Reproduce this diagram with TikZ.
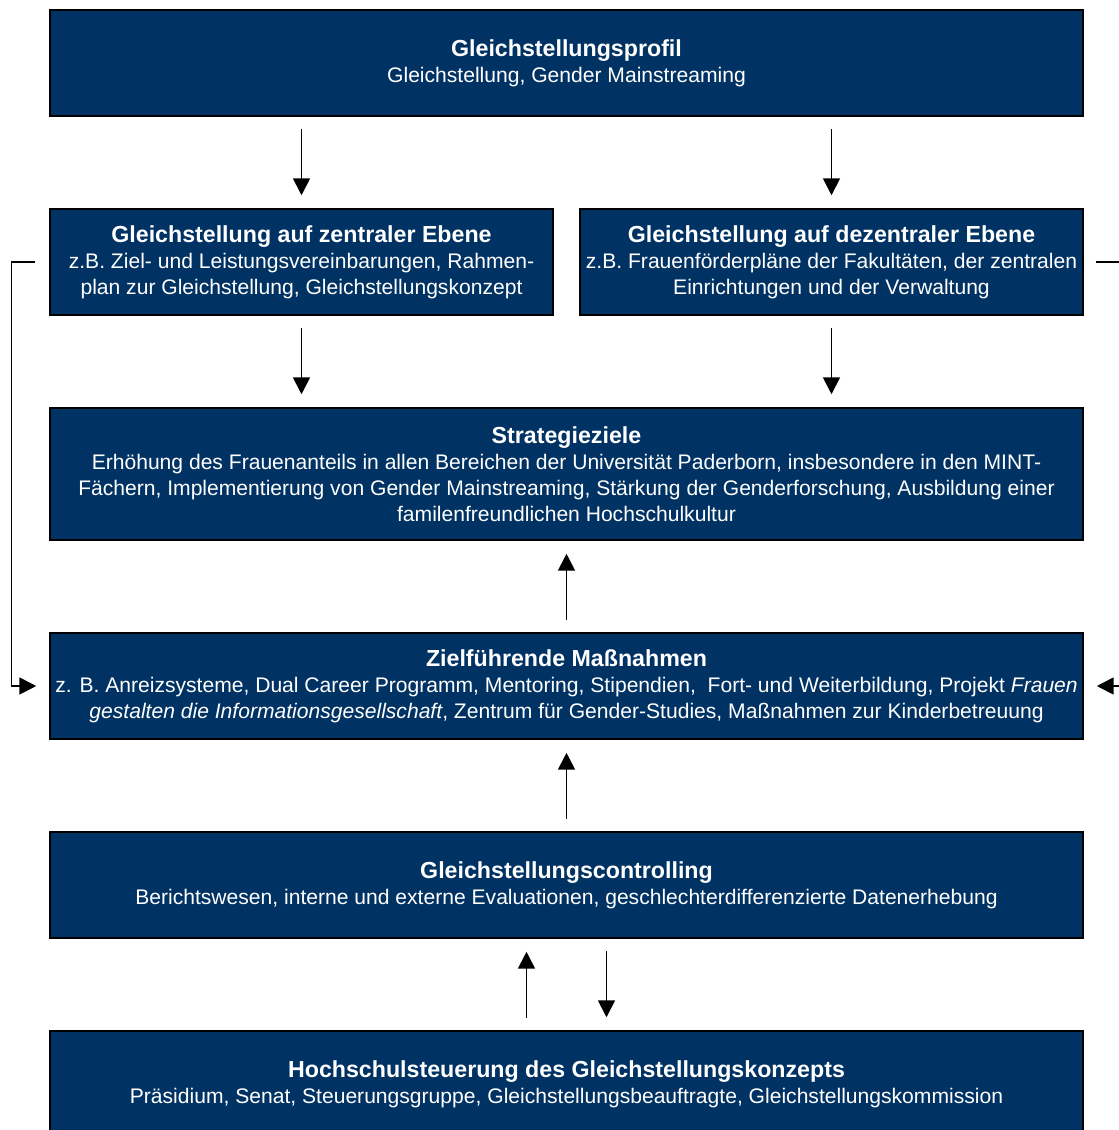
\documentclass[tikz,border=0pt]{standalone}
\usepackage{fontspec}
\setmainfont{Liberation Sans}
\usetikzlibrary{arrows.meta}

\definecolor{upbblau}{RGB}{0,50,99}

\tikzset{
box/.style={
draw=black,
line width=0.8pt,
fill=upbblau,
text=white,
align=center,
inner sep=0pt,
font=\fontsize{15}{18.5}\selectfont
},
arr/.style={
-{Triangle[length=12pt,width=12pt]},
line width=1.3pt,
shorten <=0.32cm,
shorten >=0.33cm
}
}

\newcommand{\kopf}[1]{{\fontsize{16.5}{18.5}\selectfont\bfseries #1}}

\begin{document}
\begin{tikzpicture}

\useasboundingbox (0,0) rectangle (27.975,-28.25);

%%%%%%%%%%%%%%%%%%%%%%%%%%%%%%%%%%%%%%%%%%%%%%%%%%%%%%
% PROFIL
%%%%%%%%%%%%%%%%%%%%%%%%%%%%%%%%%%%%%%%%%%%%%%%%%%%%%%

\node[
box,
minimum width=25.825cm,
minimum height=2.65cm
](profil)
at (14.1625,-1.575)
{\kopf{Gleichstellungsprofil}\\
Gleichstellung, Gender Mainstreaming};

%%%%%%%%%%%%%%%%%%%%%%%%%%%%%%%%%%%%%%%%%%%%%%%%%%%%%%
% ZENTRAL / DEZENTRAL
%%%%%%%%%%%%%%%%%%%%%%%%%%%%%%%%%%%%%%%%%%%%%%%%%%%%%%

\node[
box,
minimum width=12.575cm,
minimum height=2.65cm
](zentral)
at (7.5375,-6.55)
{\kopf{Gleichstellung auf zentraler Ebene}\\
z.B. Ziel- und Leistungsvereinbarungen, Rahmen-\\
plan zur Gleichstellung, Gleichstellungskonzept};

\node[
box,
minimum width=12.575cm,
minimum height=2.65cm
](dezentral)
at (20.7875,-6.55)
{\kopf{Gleichstellung auf dezentraler Ebene}\\
z.B. Frauenförderpläne der Fakultäten, der zentralen\\
Einrichtungen und der Verwaltung};

%%%%%%%%%%%%%%%%%%%%%%%%%%%%%%%%%%%%%%%%%%%%%%%%%%%%%%
% STRATEGIEZIELE
%%%%%%%%%%%%%%%%%%%%%%%%%%%%%%%%%%%%%%%%%%%%%%%%%%%%%%

\node[
box,
minimum width=25.825cm,
minimum height=3.3cm
](ziele)
at (14.1625,-11.85)
{\kopf{Strategieziele}\\
Erhöhung des Frauenanteils in allen Bereichen der Universität Paderborn, insbesondere in den MINT-\\
Fächern, Implementierung von Gender Mainstreaming, Stärkung der Genderforschung, Ausbildung einer\\
familenfreundlichen Hochschulkultur};

%%%%%%%%%%%%%%%%%%%%%%%%%%%%%%%%%%%%%%%%%%%%%%%%%%%%%%
% MASSNAHMEN
%%%%%%%%%%%%%%%%%%%%%%%%%%%%%%%%%%%%%%%%%%%%%%%%%%%%%%

\node[
box,
minimum width=25.825cm,
minimum height=2.65cm
](massnahmen)
at (14.1625,-17.15)
{\kopf{Zielführende Maßnahmen}\\
z. B. Anreizsysteme, Dual Career Programm, Mentoring, Stipendien, \ Fort- und Weiterbildung, Projekt \textit{Frauen}\\
\textit{gestalten die Informationsgesellschaft}, Zentrum für Gender-Studies, Maßnahmen zur Kinderbetreuung};

%%%%%%%%%%%%%%%%%%%%%%%%%%%%%%%%%%%%%%%%%%%%%%%%%%%%%%
% CONTROLLING
%%%%%%%%%%%%%%%%%%%%%%%%%%%%%%%%%%%%%%%%%%%%%%%%%%%%%%

\node[
box,
minimum width=25.825cm,
minimum height=2.65cm
](controlling)
at (14.1625,-22.125)
{\kopf{Gleichstellungscontrolling}\\
Berichtswesen, interne und externe Evaluationen, geschlechterdifferenzierte Datenerhebung};

%%%%%%%%%%%%%%%%%%%%%%%%%%%%%%%%%%%%%%%%%%%%%%%%%%%%%%
% STEUERUNG
%%%%%%%%%%%%%%%%%%%%%%%%%%%%%%%%%%%%%%%%%%%%%%%%%%%%%%

\node[
box,
minimum width=25.825cm,
minimum height=2.65cm
](steuerung)
at (14.1625,-27.1)
{\kopf{Hochschulsteuerung des Gleichstellungskonzepts}\\
Präsidium, Senat, Steuerungsgruppe, Gleichstellungsbeauftragte, Gleichstellungskommission};

%%%%%%%%%%%%%%%%%%%%%%%%%%%%%%%%%%%%%%%%%%%%%%%%%%%%%%
% ARROWS
%%%%%%%%%%%%%%%%%%%%%%%%%%%%%%%%%%%%%%%%%%%%%%%%%%%%%%

\draw[arr] (profil.south -| zentral) -- (zentral);

\draw[arr] (profil.south -| dezentral) -- (dezentral);

\draw[arr] (zentral) -- (zentral |- ziele.north);

\draw[arr] (dezentral) -- (dezentral |- ziele.north);

\draw[arr] (massnahmen) -- (ziele);

\draw[arr] (controlling) -- (massnahmen);

\draw[arr] ([xshift=-1cm]steuerung.north) -- ([xshift=-1cm]controlling.south);

\draw[arr] ([xshift=1cm]controlling.south) -- ([xshift=1cm]steuerung.north);

% side connectors
\draw[arr,shorten <=0pt] ([xshift=-0.35cm]zentral.west) -- ++(-0.6,0) |- (massnahmen.west);

\draw[arr,shorten <=0pt] ([xshift=0.3cm]dezentral.east) -- ++(0.95,0) |- (massnahmen.east);

\end{tikzpicture}
\end{document}
